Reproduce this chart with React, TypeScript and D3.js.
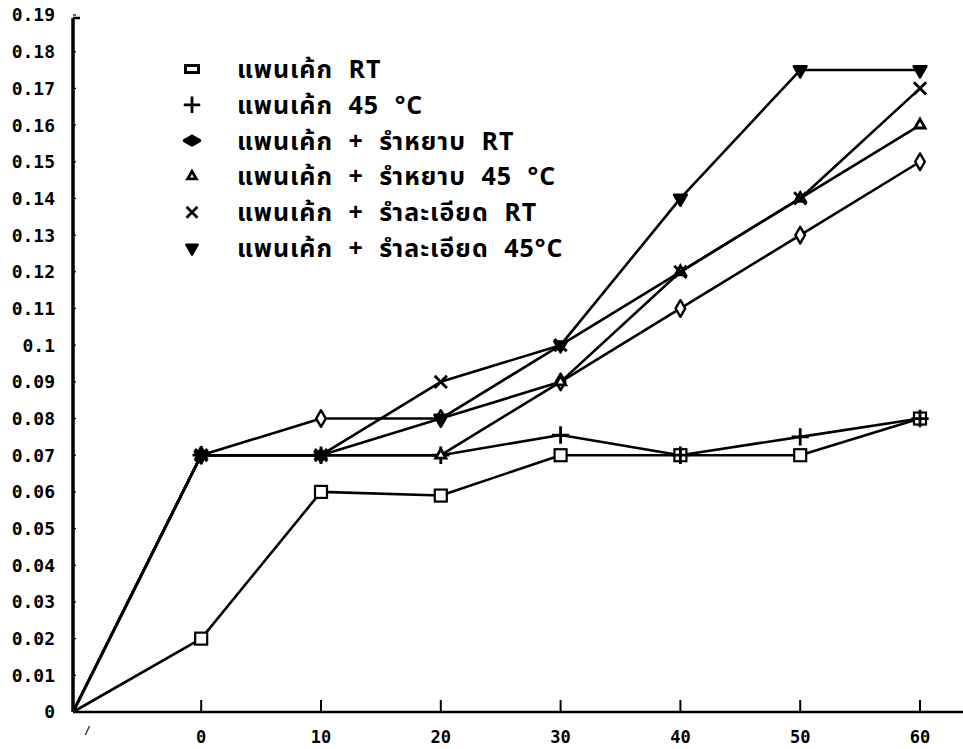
import { useMemo } from 'react'
import * as d3 from 'd3'

// sampling times; the first point is the start at the axis corner
const times = [-10.7, 0, 10, 20, 30, 40, 50, 60]
const xTicks = [-10, 0, 10, 20, 30, 40, 50, 60]
const xTickLabels = ['/', '0', '10', '20', '30', '40', '50', '60']
const yTicks = [0, 0.01, 0.02, 0.03, 0.04, 0.05, 0.06, 0.07, 0.08, 0.09, 0.1, 0.11, 0.12, 0.13, 0.14, 0.15, 0.16, 0.17, 0.18, 0.19]
const yTickLabels = ['0', '0.01', '0.02', '0.03', '0.04', '0.05', '0.06', '0.07', '0.08', '0.09', '0.1', '0.11', '0.12', '0.13', '0.14', '0.15', '0.16', '0.17', '0.18', '0.19']

const seriesNames = [
  'แพนเค้ก RT',
  'แพนเค้ก 45 °C',
  'แพนเค้ก + รำหยาบ RT',
  'แพนเค้ก + รำหยาบ 45 °C',
  'แพนเค้ก + รำละเอียด RT',
  'แพนเค้ก + รำละเอียด 45°C',
]
const panRT = [0, 0.02, 0.06, 0.059, 0.07, 0.07, 0.07, 0.08]
const pan45 = [0, 0.07, 0.07, 0.07, 0.0755, 0.07, 0.075, 0.08]
const coarseRT = [0, 0.07, 0.08, 0.08, 0.09, 0.11, 0.13, 0.15]
const coarse45 = [0, 0.07, 0.07, 0.07, 0.09, 0.12, 0.14, 0.16]
const fineRT = [0, 0.07, 0.07, 0.09, 0.1, 0.12, 0.14, 0.17]
const fine45 = [0, 0.07, 0.07, 0.08, 0.1, 0.14, 0.175, 0.175]
const seriesValues = [panRT, pan45, coarseRT, coarse45, fineRT, fine45]

const W = 963
const H = 749
const margin = { top: 15, right: 43, bottom: 37, left: 73 }
const axisFont = '"DejaVu Sans Mono", monospace'
const thaiFont = '"Noto Sans Thai", "Noto Sans", "DejaVu Sans", sans-serif'

function Marker({ kind, x, y, legend = false }: { kind: number; x: number; y: number; legend?: boolean }) {
  const t = `translate(${x},${y})`
  if (kind === 0) {
    const w = legend ? 13 : 12
    const h = legend ? 7 : 12
    return <rect x={x - w / 2} y={y - h / 2} width={w} height={h} fill="#fff" stroke="#000" strokeWidth={legend ? 3 : 2.2} />
  }
  if (kind === 1) {
    return <path transform={t} d={d3.symbol(d3.symbolPlus, legend ? 90 : 100)() ?? ''} fill="none" stroke="#000" strokeWidth={2.8} />
  }
  if (kind === 2) {
    return (
      <path
        transform={legend ? `${t} rotate(90)` : t}
        d={d3.symbol(d3.symbolDiamond, legend ? 70 : 80)() ?? ''}
        fill={legend ? '#000' : '#fff'}
        stroke="#000"
        strokeWidth={legend ? 3 : 2.4}
        strokeLinejoin="round"
      />
    )
  }
  if (kind === 3) {
    return <path transform={t} d={d3.symbol(d3.symbolTriangle2, legend ? 55 : 75)() ?? ''} fill="#fff" stroke="#000" strokeWidth={2.8} />
  }
  if (kind === 4) {
    return <path transform={t} d={d3.symbol(d3.symbolTimes, legend ? 80 : 100)() ?? ''} fill="none" stroke="#000" strokeWidth={2.8} />
  }
  return (
    <path
      transform={`${t} rotate(180)`}
      d={d3.symbol(d3.symbolTriangle, legend ? 55 : 70)() ?? ''}
      fill="#000"
      stroke="#000"
      strokeWidth={2.5}
      strokeLinejoin="round"
    />
  )
}

export default function App() {
  const x = useMemo(
    () => d3.scaleLinear().domain([times[0], 60]).range([margin.left, W - margin.right]),
    [],
  )
  const y = useMemo(
    () => d3.scaleLinear().domain([0, 0.19]).range([H - margin.bottom, margin.top]),
    [],
  )
  const line = d3
    .line<number>()
    .x((_, i) => x(times[i]))
    .y((v) => y(v))

  const legendX = 192
  const legendY0 = 69
  const legendStep = 35.8

  return (
    <div style={{ position: 'absolute', left: 0, top: 0, width: W, height: H, background: '#fff' }}>
      <svg width={W} height={H} viewBox={`0 0 ${W} ${H}`}>
        <rect width={W} height={H} fill="#fff" />

        {/* y axis */}
        <line x1={margin.left} x2={margin.left} y1={y(0.19) + 3} y2={y(0)} stroke="#000" strokeWidth={3.5} />
        <line x1={margin.left} x2={margin.left + 7} y1={y(0.19) + 3} y2={y(0.19) + 3} stroke="#000" strokeWidth={2.5} />
        {yTicks.map((v, i) => (
          <g key={v}>
            <line x1={margin.left} x2={margin.left + 3} y1={y(v)} y2={y(v)} stroke="#000" strokeWidth={1.2} />
            <text
              x={55}
              y={y(v)}
              dy="0.36em"
              textAnchor="end"
              fontFamily={axisFont}
              fontWeight="bold"
              fontSize={18}
              fill="#000"
            >
              {yTickLabels[i]}
            </text>
          </g>
        ))}

        {/* x axis */}
        <line x1={margin.left} x2={W} y1={y(0)} y2={y(0)} stroke="#000" strokeWidth={2.5} />
        {xTicks.map((v, i) => (
          <g key={v}>
            {v >= 0 ? (
              <line x1={x(v)} x2={x(v)} y1={y(0)} y2={y(0) - 12} stroke="#000" strokeWidth={2} />
            ) : null}
            <text
              x={x(v) + (v < 0 ? 6 : 0)}
              y={y(0) + (v < 0 ? 22 : 31)}
              textAnchor="middle"
              fontFamily={axisFont}
              fontWeight="bold"
              fontSize={v < 0 ? 11 : 17}
              fill="#000"
            >
              {xTickLabels[i]}
            </text>
          </g>
        ))}

        {/* series lines */}
        {seriesValues.map((vals, si) => (
          <path key={si} d={line(vals) ?? ''} fill="none" stroke="#000" strokeWidth={2.6} strokeLinejoin="round" />
        ))}

        {/* markers (skip the starting point at the origin) */}
        {seriesValues.map((vals, si) =>
          vals.slice(1).map((v, i) => <Marker key={`${si}-${i}`} kind={si} x={x(times[i + 1])} y={y(v)} />),
        )}

        {/* legend */}
        {seriesNames.map((name, i) => (
          <g key={name}>
            <Marker kind={i} x={legendX} y={legendY0 + i * legendStep} legend />
            <text
              x={237}
              y={legendY0 + i * legendStep}
              dy="0.36em"
              fontFamily={thaiFont}
              fontWeight="bold"
              fontSize={25}
              letterSpacing={1}
              wordSpacing={8}
              fill="#000"
            >
              {name}
            </text>
          </g>
        ))}
      </svg>
    </div>
  )
}
